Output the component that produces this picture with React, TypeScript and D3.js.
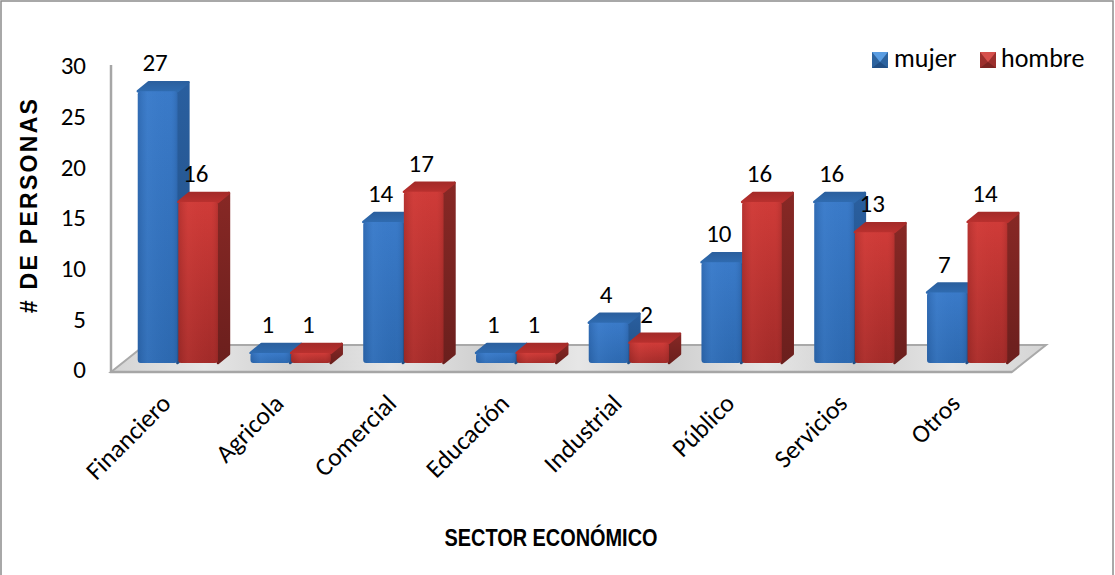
import React from "react";
import * as d3 from "d3";

const categories = ["Financiero", "Agricola", "Comercial", "Educación", "Industrial", "Público", "Servicios", "Otros"];
const mujer = [27, 1, 14, 1, 4, 10, 16, 7];
const hombre = [16, 1, 17, 1, 2, 16, 13, 14];
const yTicks = [0, 5, 10, 15, 20, 25, 30];
const seriesNames = ["mujer", "hombre"];

const W = 1115, H = 575;
const DX = 11, DY = 9;
const BASE = 363;
const bodyFont = "Carlito, Lato, 'Open Sans', sans-serif";

const x = d3.scaleBand<string>().domain(categories).range([122, 1024]).paddingInner(0.28).paddingOuter(0.14);
const xSeries = d3.scaleBand<string>().domain(seriesNames).range([0, x.bandwidth()]);
const yBar = d3.scaleLinear().domain([0, 30]).range([BASE, BASE - 302]);
const yAxis = d3.scaleLinear().domain([0, 30]).range([370, 66]);

function Bar({ x0, w, v, kind }: { x0: number; w: number; v: number; kind: string }) {
  const t = yBar(v);
  const x1 = x0 + w;
  const r = 3;
  const rightLine = d3.line<[number, number]>().curve(d3.curveLinearClosed);
  const side = rightLine([[x1, t], [x1 + DX, t - DY], [x1 + DX, BASE - DY], [x1, BASE]]) as string;
  const top = rightLine([[x0, t], [x0 + DX, t - DY], [x1 + DX, t - DY], [x1, t]]) as string;
  return (
    <g strokeLinejoin="round">
      <path d={side} fill={`url(#${kind}Side)`} stroke={`url(#${kind}Side)`} strokeWidth={2.5} />
      <path d={top} fill={`url(#${kind}Top)`} stroke={`url(#${kind}Top)`} strokeWidth={2.5} />
      <rect x={x0} y={t} width={w} height={BASE - t} rx={r} fill={`url(#${kind}V)`} />
      <rect x={x0} y={t} width={w} height={BASE - t} rx={r} fill={`url(#${kind}H)`} />
    </g>
  );
}

function Swatch({ px, py, kind }: { px: number; py: number; kind: string }) {
  const s = 16;
  const c = kind === "blue"
    ? { top: "#5a9de2", side: "#2c639f", bottom: "#214f85" }
    : { top: "#d6504c", side: "#9c2f2d", bottom: "#7c2422" };
  return (
    <g>
      <rect x={px} y={py} width={s} height={s} fill={c.side} />
      <path d={`M${px},${py}H${px + s}L${px + s / 2},${py + s * 0.62}Z`} fill={c.top} />
      <path d={`M${px},${py + s}H${px + s}L${px + s / 2},${py + s * 0.62}Z`} fill={c.bottom} />
    </g>
  );
}

function Grad({ id, stops, horizontal }: { id: string; stops: [number, string, number?][]; horizontal?: boolean }) {
  return (
    <linearGradient id={id} x1="0" y1="0" x2={horizontal ? 1 : 0} y2={horizontal ? 0 : 1}>
      {stops.map(([o, c, a], i) => (
        <stop key={i} offset={o} stopColor={c} stopOpacity={a ?? 1} />
      ))}
    </linearGradient>
  );
}

export default function App() {
  const bars = categories.flatMap((c, i) => [
    { c, s: "mujer", v: mujer[i], kind: "blue" },
    { c, s: "hombre", v: hombre[i], kind: "red" },
  ]);
  return (
    <svg width={W} height={H} viewBox={`0 0 ${W} ${H}`} style={{ position: "absolute", left: 0, top: 0, display: "block", background: "#fff" }}>
      <defs>
        <Grad id="blueV" stops={[[0, "#3a7ac8"], [1, "#2d69b0"]]} />
        <Grad id="blueH" horizontal stops={[[0, "#1f4f8c", 0.35], [0.25, "#4a8ad6", 0.25], [0.8, "#3a7ac8", 0], [1, "#1f4f8c", 0.35]]} />
        <Grad id="blueSide" stops={[[0, "#2a5f9f"], [1, "#214f85"]]} />
        <Grad id="blueTop" stops={[[0, "#2b609f"], [1, "#2f6bb0"]]} />
        <Grad id="redV" stops={[[0, "#cf3b38"], [1, "#a22b29"]]} />
        <Grad id="redH" horizontal stops={[[0, "#7c1f1d", 0.3], [0.25, "#dc4a46", 0.2], [0.8, "#c93a38", 0], [1, "#7c1f1d", 0.3]]} />
        <Grad id="redSide" stops={[[0, "#872825"], [1, "#6b1f1d"]]} />
        <Grad id="redTop" stops={[[0, "#a52b29"], [1, "#b9302e"]]} />
        <Grad id="floor" horizontal stops={[[0, "#d4d4d4"], [0.1, "#e6e6e6"], [0.2, "#cfcfcf"], [0.3, "#e6e6e6"], [0.4, "#cfcfcf"], [0.5, "#e6e6e6"], [0.6, "#cfcfcf"], [0.7, "#e6e6e6"], [0.8, "#cfcfcf"], [0.9, "#e6e6e6"], [1, "#d4d4d4"]]} />
      </defs>

      <rect x={1} y={1} width={1112} height={590} fill="#fff" stroke="#8c8c8c" strokeWidth={1.5} />

      <path d="M111,372L145,345H1046L1012,372Z" fill="url(#floor)" stroke="#a9a9a9" strokeWidth={2} />
      <path d="M111,65V372H1012" fill="none" stroke="#a6a6a6" strokeWidth={2.5} />

      {yTicks.map((t) => (
        <text key={t} x={86} y={yAxis(t)} dy="0.33em" textAnchor="end" fontFamily={bodyFont} fontSize={25} fill="#000">{t}</text>
      ))}

      {bars.map((b) => {
        const x0 = (x(b.c) as number) + (xSeries(b.s) as number);
        return <Bar key={b.c + b.s} x0={x0} w={xSeries.bandwidth() - 1} v={b.v} kind={b.kind} />;
      })}

      {bars.map((b) => {
        const x0 = (x(b.c) as number) + (xSeries(b.s) as number);
        return (
          <text key={b.c + b.s} x={x0 + xSeries.bandwidth() / 2 - 3} y={yBar(b.v) - 20} textAnchor="middle" fontFamily={bodyFont} fontSize={25} fill="#000">{b.v}</text>
        );
      })}

      {categories.map((c) => {
        const cx = (x(c) as number) + x.bandwidth() / 2 - 6;
        return (
          <text key={c} transform={`translate(${cx},${405}) rotate(-45)`} textAnchor="end" fontFamily={bodyFont} fontSize={25.5} fill="#000">{c}</text>
        );
      })}

      <text transform="translate(37,205) rotate(-90)" textAnchor="middle" fontFamily="'Liberation Sans', Arial, sans-serif" fontWeight="bold" fontSize={23} letterSpacing={2.3} fill="#000">{"# DE PERSONAS"}</text>
      <text x={551} y={546} textAnchor="middle" fontFamily="'Liberation Sans', Arial, sans-serif" fontWeight="bold" fontSize={23} textLength={213} lengthAdjust="spacingAndGlyphs" fill="#000">{"SECTOR ECONÓMICO"}</text>

      <Swatch px={872} py={52} kind="blue" />
      <text x={894} y={67} fontFamily={bodyFont} fontSize={26} fill="#000">{seriesNames[0]}</text>
      <Swatch px={980} py={52} kind="red" />
      <text x={1001} y={67} fontFamily={bodyFont} fontSize={26} fill="#000">{seriesNames[1]}</text>
    </svg>
  );
}
